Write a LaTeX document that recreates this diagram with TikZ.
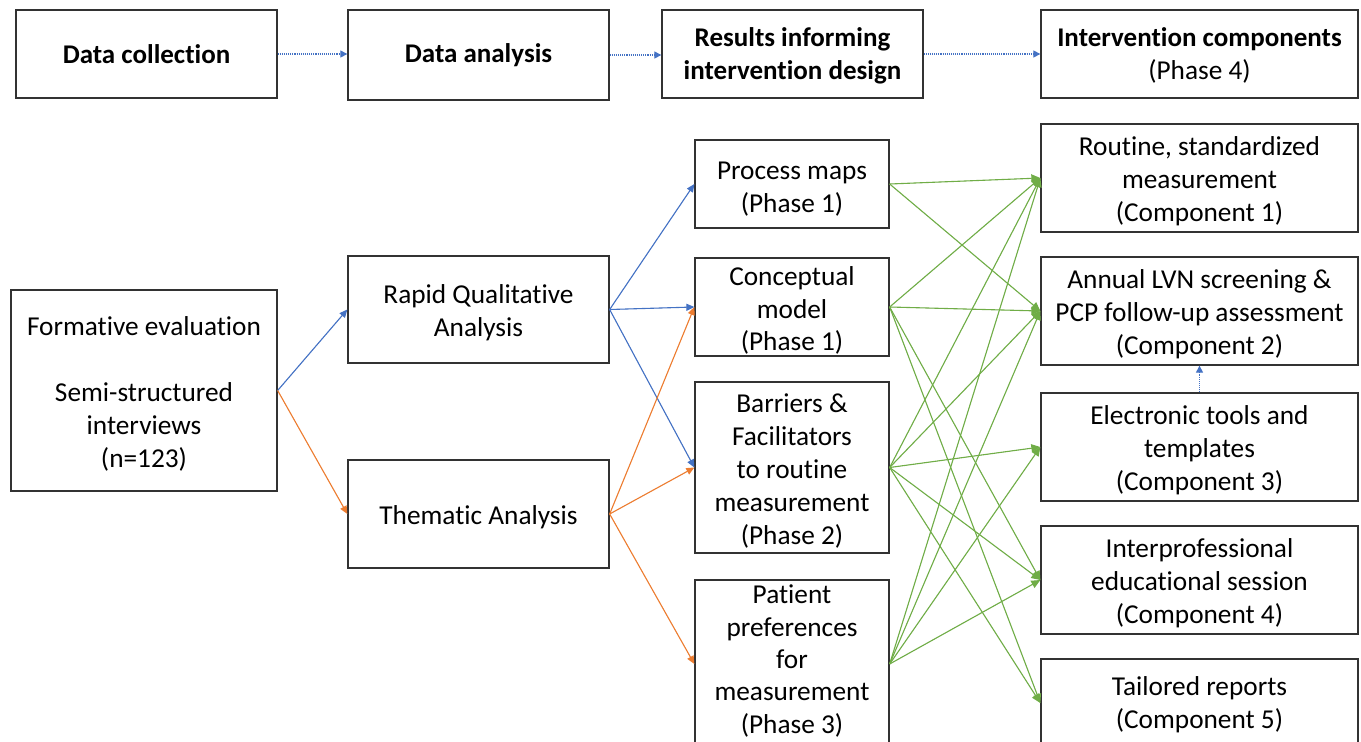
\documentclass[tikz,border=0pt]{standalone}
\usepackage{fontspec}
\setmainfont[RawFeature=-liga]{Carlito}
\usetikzlibrary{arrows.meta}
\definecolor{cblue}{RGB}{68,114,196}
\definecolor{corange}{RGB}{237,125,49}
\definecolor{cgreen}{RGB}{112,173,71}
\definecolor{cbord}{RGB}{50,50,50}
\newcommand{\mybox}[7][]{%
  \node[box, minimum width=#5pt, minimum height=#6pt] (#2) at (#3,#4) {};
  \node[txt, #1] (#2-t) at ([yshift=-3.5pt]#2.center) {#7};
}
\begin{document}
\begin{tikzpicture}[x=1pt,y=-1pt,
  box/.style={draw=cbord, line width=1.3pt, inner sep=0pt, fill=white},
  txt/.style={align=center, inner sep=0pt, font=\fontsize{27.3}{32.8}\selectfont},
  btxt/.style={font=\fontsize{27}{32.8}\selectfont\bfseries},
  tip/.style={-{Triangle[length=8pt,width=7pt]}},
  bluearr/.style={tip, draw=cblue, fill=cblue, line width=1.1pt},
  orarr/.style={tip, draw=corange, fill=corange, line width=1.1pt},
  grarr/.style={-{Triangle[length=9pt,width=8pt]}, draw=cgreen, fill=cgreen, line width=1.1pt},
  dotarr/.style={-{Triangle[length=7pt,width=7pt]}, draw=cblue, line width=1.1pt, densely dotted}
]
\useasboundingbox (0,0) rectangle (1361,742);
\clip (0,0) rectangle (1361,742);
\fill[white] (0,0) rectangle (1361,742);

% top row
\mybox[btxt, yshift=3.5pt]{dc}{146.5}{54}{261}{88}{Data collection}
\mybox[btxt, yshift=3.5pt]{da}{478.5}{55}{261}{90}{Data analysis}
\mybox[btxt, yshift=2pt]{rid}{792.5}{54}{261}{88}{Results informing\\intervention design}
\mybox[yshift=2pt]{ic}{1199.5}{54}{317}{88}{\textbf{\fontsize{27}{32.8}\selectfont Intervention components}\\(Phase 4)}

% left columns
\mybox{fe}{144}{390.5}{266}{201}{Formative evaluation\\[32.8pt]Semi-structured\\interviews\\(n=123)}
\mybox{rqa}{478.5}{309.5}{261}{107}{Rapid Qualitative\\Analysis}
\mybox{ta}{478.5}{514}{261}{108}{Thematic Analysis}

% results column
\mybox[yshift=-1.5pt]{pm}{792}{184}{194}{88}{Process maps\\(Phase 1)}
\mybox{cm}{792}{307}{194}{98}{Conceptual\\model\\(Phase 1)}
\mybox{bf}{792}{467.5}{194}{171}{Barriers \&\\Facilitators\\to routine\\measurement\\(Phase 2)}
\mybox[yshift=6.5pt, font=\fontsize{27.3}{32.4}\selectfont]{pp}{792}{664}{194}{168}{Patient\\preferences\\for\\measurement\\(Phase 3)}

% components column
\mybox{c1}{1199.5}{178}{317}{108}{Routine, standardized\\measurement\\(Component 1)}
\mybox{c2}{1199.5}{311}{317}{108}{Annual LVN screening \&\\PCP follow-up assessment\\(Component 2)}
\mybox{c3}{1199.5}{447}{317}{108}{Electronic tools and\\templates\\(Component 3)}
\mybox{c4}{1199.5}{580}{317}{108}{Interprofessional\\educational session\\(Component 4)}
\mybox[yshift=1.5pt]{c5}{1199.5}{703}{317}{88}{Tailored reports\\(Component 5)}

% top dotted arrows
\draw[dotarr] (dc.east) -- (dc.east -| da.west);
\draw[dotarr] (da.east) -- (da.east -| rid.west);
\draw[dotarr] (rid.east) -- (rid.east -| ic.west);
\draw[dotarr] (c3.north) -- (c2.south);

% blue
\draw[bluearr] (fe.east) -- (rqa.west);
\draw[bluearr] (rqa.east) -- (pm.west);
\draw[bluearr] (rqa.east) -- (cm.west);
\draw[bluearr] (rqa.east) -- (bf.west);
% orange
\draw[orarr] (fe.east) -- (ta.west);
\draw[orarr] (ta.east) -- (cm.west);
\draw[orarr] (ta.east) -- (bf.west);
\draw[orarr] (ta.east) -- (pp.west);

% green
\foreach \s/\t in {pm/c1, pm/c2, cm/c1, cm/c2, cm/c4, cm/c5, bf/c1, bf/c2, bf/c3, bf/c4, bf/c5, pp/c1, pp/c2, pp/c3, pp/c4}
  \draw[grarr] (\s.east) -- (\t.west);
\end{tikzpicture}
\end{document}
